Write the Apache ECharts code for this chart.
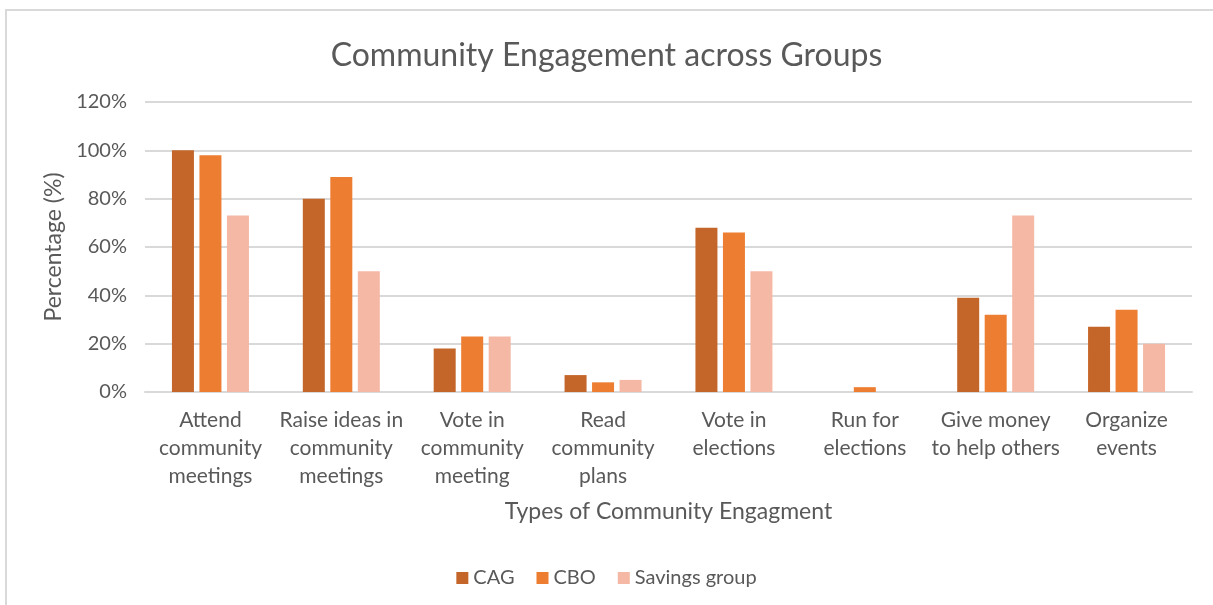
<!DOCTYPE html>
<html>
<head>
<meta charset="utf-8">
<script src="https://cdn.jsdelivr.net/npm/echarts@6/dist/echarts.min.js"></script>
<style>html,body{margin:0;padding:0;background:#fff}#c{width:1213px;height:605px}</style>
</head>
<body>
<div id="c"></div>
<script>
const categories = ['Attend\ncommunity\nmeetings','Raise ideas in\ncommunity\nmeetings','Vote in\ncommunity\nmeeting','Read\ncommunity\nplans','Vote in\nelections','Run for\nelections','Give money\nto help others','Organize\nevents'];
const seriesNames = ['CAG','CBO','Savings group'];
const cag = [100, 80, 18, 7, 68, 0, 39, 27];
const cbo = [98, 89, 23, 4, 66, 2, 32, 34];
const savings = [73, 50, 23, 5, 50, 0, 73, 20];
const yTicks = [0, 20, 40, 60, 80, 100, 120];
const colors = ['#C4662A', '#ED7D31', '#F4B8A4'];

const font = 'Lato, "Open Sans", sans-serif';
const txt = '#595959';
const chart = echarts.init(document.getElementById('c'));
const mk = (name, data, i) => ({
  name, type: 'bar', data, barWidth: 22, barGap: '25%',
  itemStyle: {color: colors[i]},
  emphasis: {disabled: true}
});
chart.setOption({
  animation: false,
  backgroundColor: '#fff',
  graphic: [{type: 'rect', shape: {x: 6, y: 10, width: 1240, height: 640}, style: {fill: 'none', stroke: '#d9d9d9', lineWidth: 2}, silent: true}],
  title: {text: 'Community Engagement across Groups', left: 'center', top: 35,
    textStyle: {fontFamily: font, fontSize: 32, fontWeight: 'normal', color: txt}},
  legend: {data: seriesNames, bottom: 12, left: 'center', itemWidth: 12, itemHeight: 12, itemGap: 22,
    icon: 'rect', textStyle: {fontFamily: font, fontSize: 20, color: txt}},
  grid: {left: 145, right: 21, top: 102, bottom: 213, containLabel: false},
  xAxis: {type: 'category', data: categories,
    name: 'Types of Community Engagment', nameLocation: 'middle', nameGap: 108,
    nameTextStyle: {fontFamily: font, fontSize: 23, color: txt},
    axisLine: {lineStyle: {color: '#d9d9d9', width: 2}}, axisTick: {show: false},
    axisLabel: {interval: 0, fontFamily: font, fontSize: 21, color: txt, lineHeight: 28, margin: 14}},
  yAxis: {type: 'value', min: 0, max: 120, interval: 20,
    name: 'Percentage (%)', nameLocation: 'middle', nameGap: 78, nameRotate: 90,
    nameTextStyle: {fontFamily: font, fontSize: 23, color: txt},
    axisLine: {show: false}, axisTick: {show: false},
    axisLabel: {fontFamily: font, fontSize: 20, color: txt, margin: 18,
      formatter: v => yTicks.includes(v) ? v + '%' : ''},
    splitLine: {lineStyle: {color: '#d9d9d9', width: 2}}},
  series: [mk(seriesNames[0], cag, 0), mk(seriesNames[1], cbo, 1), mk(seriesNames[2], savings, 2)]
});
</script>
</body>
</html>
